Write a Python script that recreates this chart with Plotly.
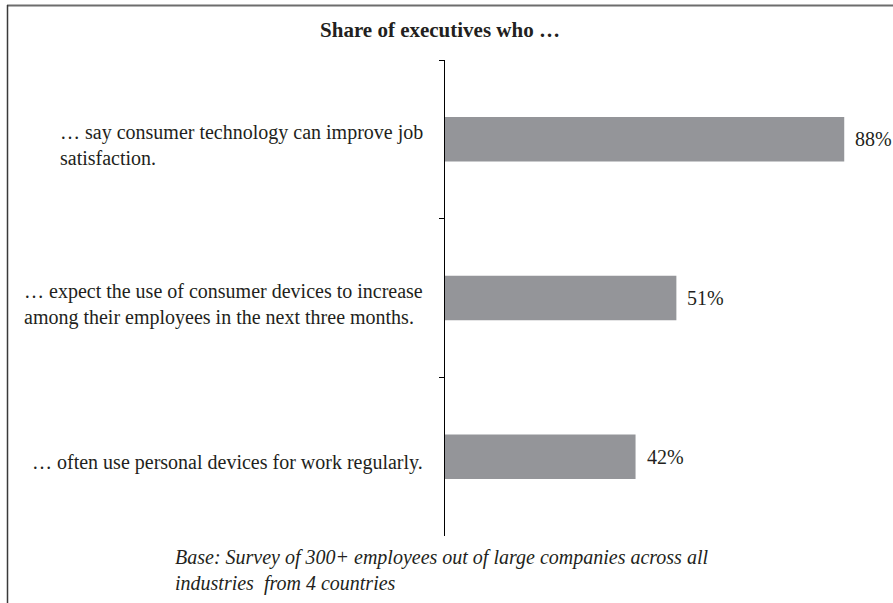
import plotly.graph_objects as go

categories = [
    "… say consumer technology can improve job<br>satisfaction.",
    "… expect the use of consumer devices to increase<br>among their employees in the next three months.",
    "… often use personal devices for work regularly.",
]
values = [88, 51, 42]
value_labels = ["88%", "51%", "42%"]
title_text = "Share of executives who …"
footnote_text = "Base: Survey of 300+ employees out of large companies across all<br>industries\u00a0 from 4 countries"

FONT = "Liberation Serif, Times New Roman, serif"
TEXT_COLOR = "#231f20"
BAR_COLOR = "#949599"

W, H = 893, 603
L, R, T, B = 445, 17, 60, 67
pw, ph = W - L - R, H - T - B

def px_to_paper_x(px):
    return (px - L) / pw

def px_to_paper_y(py):
    return (H - B - py) / ph

fig = go.Figure()
fig.add_trace(go.Bar(
    y=categories,
    x=values,
    orientation="h",
    marker=dict(color=BAR_COLOR, line=dict(width=0)),
    hoverinfo="skip",
))

annotations = []
for cat, v, lab in zip(categories, values, value_labels):
    annotations.append(dict(
        x=0, y=cat, xref="x", yref="y", text=cat, showarrow=False,
        xanchor="right", yanchor="middle", align="left", xshift=-20, yshift=-6,
        font=dict(family=FONT, size=20, color=TEXT_COLOR),
    ))
    annotations.append(dict(
        x=v, y=cat, xref="x", yref="y", text=lab, showarrow=False,
        xanchor="left", yanchor="middle", xshift=9,
        font=dict(family=FONT, size=20, color=TEXT_COLOR),
    ))

annotations.append(dict(
    x=px_to_paper_x(173), y=px_to_paper_y(544), xref="paper", yref="paper",
    text=footnote_text, showarrow=False, xanchor="left", yanchor="top", align="left",
    font=dict(family=FONT, size=20, color=TEXT_COLOR, style="italic"),
))

shapes = [
    dict(type="line", xref="paper", yref="paper",
         x0=px_to_paper_x(7), x1=px_to_paper_x(893), y0=px_to_paper_y(5.5), y1=px_to_paper_y(5.5),
         line=dict(color="#6d6d6d", width=2)),
    dict(type="line", xref="paper", yref="paper",
         x0=px_to_paper_x(7.5), x1=px_to_paper_x(7.5), y0=px_to_paper_y(5), y1=px_to_paper_y(603),
         line=dict(color="#3a3a3a", width=1.5)),
]

fig.update_layout(
    width=W, height=H,
    margin=dict(l=L, r=R, t=T, b=B, pad=0),
    paper_bgcolor="white", plot_bgcolor="white",
    showlegend=False,
    bargap=0.72,
    title=dict(text="<b>" + title_text + "</b>", x=440 / W, xref="container", xanchor="center",
               y=1 - 30 / H, yref="container", yanchor="middle",
               font=dict(family=FONT, size=21, color=TEXT_COLOR)),
    xaxis=dict(range=[0, 95], visible=False, fixedrange=True),
    yaxis=dict(autorange="reversed", showticklabels=False, showgrid=False, zeroline=False,
               showline=True, linecolor="black", linewidth=1,
               ticks="outside", ticklen=5, tickcolor="black", tickwidth=1,
               tickson="boundaries", fixedrange=True),
    annotations=annotations,
    shapes=shapes,
)

fig.write_html("out.html", config={"displayModeBar": False},
               post_script="document.body.style.margin='0';")
